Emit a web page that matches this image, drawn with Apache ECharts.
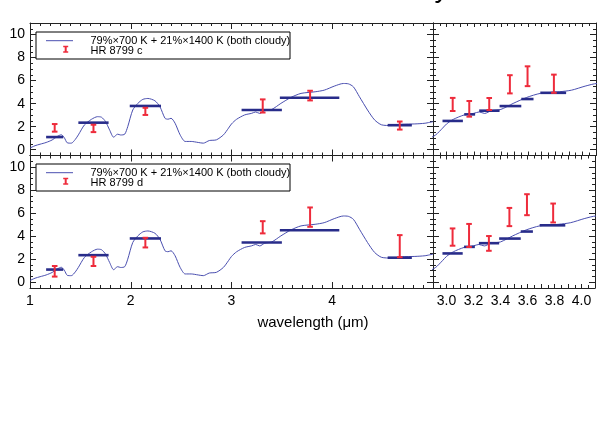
<!DOCTYPE html>
<html><head><meta charset="utf-8">
<script src="https://cdn.jsdelivr.net/npm/echarts@6/dist/echarts.min.js"></script>
<style>html,body{margin:0;padding:0;background:#fff}#c{width:598px;height:441px}</style>
</head><body><div id="c"></div>
<script>
// ---- model spectrum (wavelength in micron, flux) ----
const modelWave = [1.00,1.05,1.10,1.16,1.22,1.27,1.31,1.34,1.37,1.41,1.45,1.48,1.54,1.61,1.67,1.71,1.75,1.79,1.83,1.87,1.90,1.94,1.97,2.02,2.07,2.12,2.17,2.24,2.29,2.34,2.37,2.40,2.44,2.49,2.54,2.60,2.67,2.72,2.78,2.85,2.92,2.97,3.00,3.05,3.13,3.20,3.24,3.28,3.33,3.40,3.49,3.59,3.69,3.83,3.92,4.02,4.11,4.16,4.21,4.27,4.35,4.42,4.49,4.59,4.69,4.82,4.92,5.00];
const modelFlux = [0.15,0.35,0.48,0.63,0.85,1.15,1.30,1.05,0.60,0.57,0.90,1.29,2.15,2.64,2.87,2.82,2.44,1.72,1.09,1.35,1.28,1.35,2.00,3.45,4.02,4.37,4.45,4.25,3.73,2.73,2.65,2.73,2.30,1.29,0.72,0.72,0.63,0.57,0.80,0.86,1.29,1.87,2.24,2.64,3.02,3.16,3.28,3.15,3.39,3.50,4.02,4.54,4.89,5.03,5.17,5.52,5.75,5.72,5.46,4.60,3.45,2.59,2.16,2.10,2.21,2.24,2.30,2.44];

// ---- broadband model bins (left panels) ----
const bbLo    = [1.16, 1.48, 1.99, 3.10, 3.48, 4.55];
const bbHi    = [1.33, 1.78, 2.30, 3.50, 4.07, 4.79];
const bbModel = [1.10, 2.35, 3.80, 3.45, 4.51, 2.13];

// ---- narrowband model bins (right panels) ----
const nbLo    = [2.97, 3.13, 3.24, 3.39, 3.55, 3.69];
const nbHi    = [3.12, 3.21, 3.39, 3.55, 3.64, 3.88];
const nbModel = [2.50, 3.07, 3.39, 3.79, 4.40, 4.94];

// ---- observed photometry ----
const bbWave = [1.245, 1.63, 2.145, 3.31, 3.78, 4.67];
const cFlux  = [1.90, 1.85, 3.33, 3.80, 4.70, 2.10];
const cErr   = [0.33, 0.32, 0.31, 0.57, 0.42, 0.35];
const dFlux  = [0.95, 1.81, 3.44, 4.77, 5.65, 3.13];
const dErr   = [0.46, 0.40, 0.42, 0.53, 0.84, 0.96];

const nbWave   = [3.045, 3.167, 3.314, 3.466, 3.596, 3.79];
const cNbFlux  = [3.93, 3.55, 3.97, 5.68, 6.38, 5.73];
const cNbErr   = [0.57, 0.68, 0.52, 0.79, 0.86, 0.79];
const dNbFlux  = [3.92, 4.06, 3.37, 5.66, 6.73, 6.01];
const dNbErr   = [0.75, 1.00, 0.64, 0.79, 0.91, 0.82];

// ---- texts / ticks ----
const titleText   = 'Linear Combination of Cloudy Models';
const legendModel = '79%×700 K + 21%×1400 K (both cloudy)';
const legendNames = ['HR 8799 c', 'HR 8799 d'];
const xTitle      = 'wavelength (μm)';
const yMajorTicks = [0, 2, 4, 6, 8, 10];
const xLeftLabels = [1, 2, 3, 4];
const xRightLabels = [3.0, 3.2, 3.4, 3.6, 3.8, 4.0];

const FONT = 'Liberation Sans';
const AXC = '#222';
const LINEC = '#4a4fb0';
const BINC = '#282c8a';
const ERRC = '#ee2b3b';

const chart = echarts.init(document.getElementById('c'), null, {renderer: 'canvas'});

const grids = [
  {left: 30,  top: 23,    width: 403, height: 132.5},
  {left: 433, top: 23,    width: 163, height: 132.5},
  {left: 30,  top: 155.5, width: 403, height: 132.5},
  {left: 433, top: 155.5, width: 163, height: 132.5}
];

const xAxis = [], yAxis = [];
grids.forEach((g, gi) => {
  const right = gi % 2 === 1;
  const bottomRow = gi >= 2;
  ['bottom', 'top'].forEach(pos => {
    xAxis.push({
      gridIndex: gi, type: 'value', position: pos,
      min: right ? 2.9 : 1, max: right ? 4.1 : 5, interval: right ? 0.1 : 1,
      axisLine: {show: true, onZero: false, lineStyle: {color: AXC, width: 1}},
      axisTick: {show: true, inside: true, length: right ? 4 : 6, lineStyle: {color: AXC}},
      minorTick: {show: true, splitNumber: right ? 2 : 10, length: 3, lineStyle: {color: AXC}},
      splitLine: {show: false},
      axisLabel: {
        show: pos === 'bottom' && bottomRow, color: '#000', fontSize: 14, fontFamily: FONT, margin: 6,
        showMinLabel: true, showMaxLabel: true,
        formatter: v => {
          if (right) {
            const k = xRightLabels.find(t => Math.abs(t - v) < 1e-6);
            return k !== undefined ? k.toFixed(1) : '';
          }
          const k = xLeftLabels.find(t => Math.abs(t - v) < 1e-6);
          return k !== undefined ? String(k) : '';
        }
      }
    });
  });
  ['left', 'right'].forEach(pos => {
    yAxis.push({
      gridIndex: gi, type: 'value', position: pos, min: -0.5, max: 11, interval: 0.5,
      axisLine: {show: true, onZero: false, lineStyle: {color: AXC, width: 1}},
      axisTick: {show: true, inside: true, length: 3, lineStyle: {color: AXC}},
      splitLine: {show: false},
      axisLabel: {
        show: pos === 'left' && !right, color: '#000', fontSize: 14, fontFamily: FONT, margin: 5,
        formatter: v => {
          const k = yMajorTicks.find(t => Math.abs(t - v) < 1e-6);
          return k !== undefined ? String(k) : '';
        }
      }
    });
    yAxis.push({
      gridIndex: gi, type: 'value', position: pos, min: -0.5, max: 11,
      axisLine: {show: false},
      axisTick: {show: true, inside: true, length: 6, customValues: yMajorTicks, lineStyle: {color: AXC}},
      splitLine: {show: false},
      axisLabel: {show: false}
    });
  });
});

function binSeries(gi, lo, hi, val) {
  return {
    type: 'custom', xAxisIndex: gi * 2, yAxisIndex: gi * 4, z: 3,
    data: lo.map((l, i) => [l, hi[i], val[i]]),
    encode: {x: [0, 1], y: 2},
    renderItem: (params, api) => {
      const a = api.coord([api.value(0), api.value(2)]);
      const b = api.coord([api.value(1), api.value(2)]);
      return {type: 'line', shape: {x1: a[0], y1: a[1], x2: b[0], y2: b[1]},
              style: {stroke: BINC, lineWidth: 2.6}};
    }
  };
}
function errSeries(gi, w, f, e) {
  return {
    type: 'custom', xAxisIndex: gi * 2, yAxisIndex: gi * 4, z: 4,
    data: w.map((x, i) => [x, f[i] - e[i], f[i] + e[i]]),
    encode: {x: 0, y: [1, 2]},
    renderItem: (params, api) => {
      const lo = api.coord([api.value(0), api.value(1)]);
      const hi = api.coord([api.value(0), api.value(2)]);
      const hw = 2.8;
      const st = {stroke: ERRC, lineWidth: 2};
      return {type: 'group', children: [
        {type: 'line', shape: {x1: lo[0], y1: lo[1], x2: hi[0], y2: hi[1]}, style: st},
        {type: 'line', shape: {x1: lo[0] - hw, y1: lo[1], x2: lo[0] + hw, y2: lo[1]}, style: st},
        {type: 'line', shape: {x1: hi[0] - hw, y1: hi[1], x2: hi[0] + hw, y2: hi[1]}, style: st}
      ]};
    }
  };
}

const modelData = modelWave.map((w, i) => [w, modelFlux[i]]);
const series = [];
grids.forEach((g, gi) => {
  const right = gi % 2 === 1;
  const isC = gi < 2;
  series.push({
    type: 'line', xAxisIndex: gi * 2, yAxisIndex: gi * 4, data: modelData,
    showSymbol: false, symbol: 'none', smooth: 0.25, clip: true, z: 2,
    lineStyle: {color: LINEC, width: 1}
  });
  if (right) {
    series.push(binSeries(gi, nbLo, nbHi, nbModel));
    series.push(errSeries(gi, nbWave, isC ? cNbFlux : dNbFlux, isC ? cNbErr : dNbErr));
  } else {
    series.push(binSeries(gi, bbLo, bbHi, bbModel));
    series.push(errSeries(gi, bbWave, isC ? cFlux : dFlux, isC ? cErr : dErr));
  }
});

function legendBox(top, name) {
  return {type: 'group', children: [
    {type: 'rect', shape: {x: 36, y: top, width: 254, height: 27},
     style: {fill: '#fff', stroke: '#000', lineWidth: 1}},
    {type: 'line', shape: {x1: 46, y1: top + 8.7, x2: 73, y2: top + 8.7},
     style: {stroke: LINEC, lineWidth: 1}},
    {type: 'text', x: 90.5, y: top + 8.7,
     style: {text: legendModel, fill: '#000', font: '11px "Liberation Sans"', verticalAlign: 'middle'}},
    {type: 'line', shape: {x1: 65.7, y1: top + 14.5, x2: 65.7, y2: top + 20}, style: {stroke: ERRC, lineWidth: 2}},
    {type: 'line', shape: {x1: 63.2, y1: top + 14.5, x2: 68.2, y2: top + 14.5}, style: {stroke: ERRC, lineWidth: 1.5}},
    {type: 'line', shape: {x1: 63.2, y1: top + 20, x2: 68.2, y2: top + 20}, style: {stroke: ERRC, lineWidth: 1.5}},
    {type: 'text', x: 90.5, y: top + 18.7,
     style: {text: name, fill: '#000', font: '11px "Liberation Sans"', verticalAlign: 'middle'}}
  ]};
}

chart.setOption({
  animation: false,
  backgroundColor: '#fff',
  grid: grids,
  xAxis: xAxis,
  yAxis: yAxis,
  series: series,
  graphic: [
    {type: 'text', x: 313, y: 3, z: 10,
     style: {text: titleText, fill: '#000', font: '28px "Liberation Sans"', align: 'center', verticalAlign: 'bottom'}},
    legendBox(32, legendNames[0]),
    legendBox(164, legendNames[1]),
    {type: 'text', x: 313, y: 323,
     style: {text: xTitle, fill: '#000', font: '15px "Liberation Sans"', align: 'center', verticalAlign: 'middle'}}
  ]
});
</script>
</body></html>
